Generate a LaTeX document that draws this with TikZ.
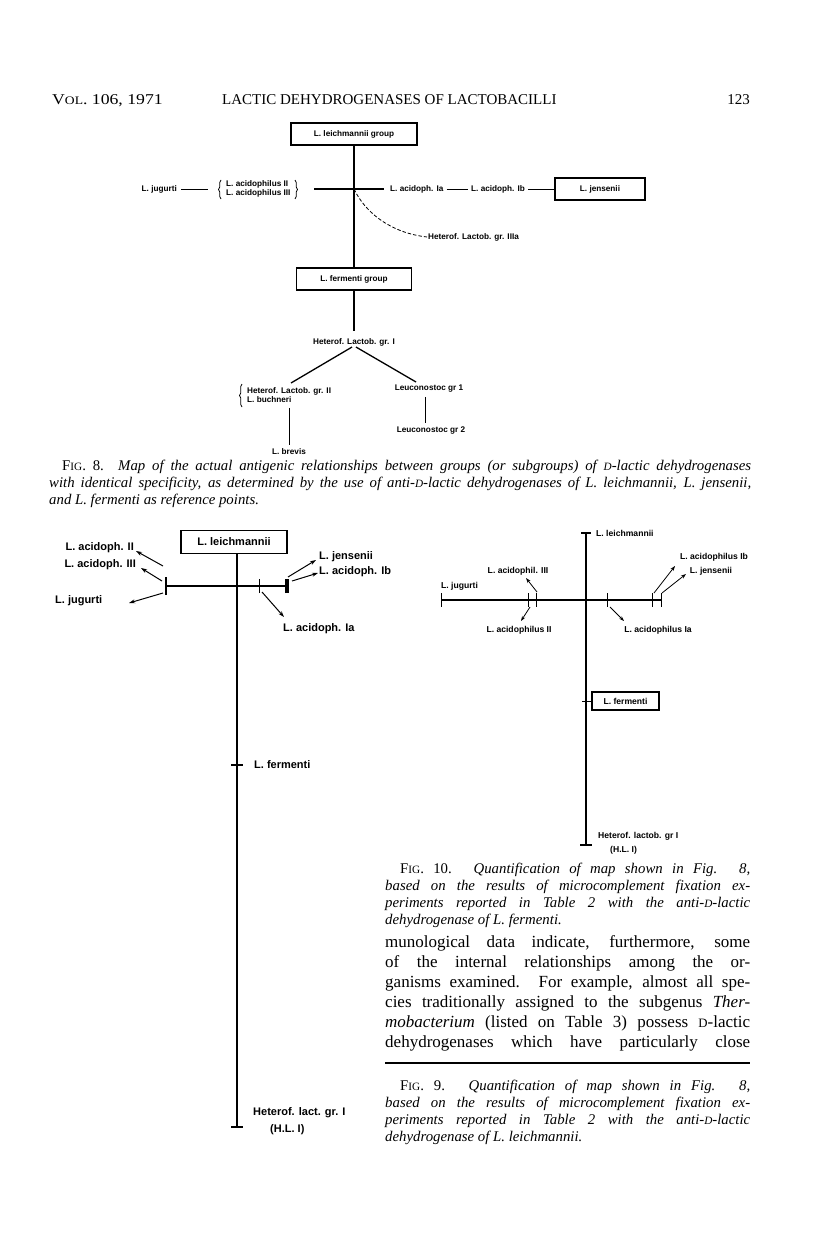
\documentclass[tikz,border=0pt]{standalone}
\usepackage{fontspec}
\setmainfont{Liberation Serif}
\setsansfont{Liberation Sans}
\usetikzlibrary{arrows.meta,decorations.pathreplacing}
\newcommand\scs[2]{{\fontsize{#1}{#1}\selectfont #2}}
\tikzset{
 lblA/.style={font=\sffamily\bfseries\fontsize{8.2}{9.4}\selectfont, inner sep=1pt},
 lblB/.style={font=\sffamily\bfseries\fontsize{11}{12}\selectfont, inner sep=1pt},
 lblC/.style={font=\sffamily\bfseries\fontsize{8.6}{9.4}\selectfont, inner sep=1pt},
 boxA/.style={lblA, draw, line width=1.1pt, minimum height=22pt, inner sep=2pt},
 boxB/.style={lblB, draw, line width=1.3pt, minimum height=23pt},
 boxC/.style={lblC, draw, line width=1.1pt, minimum height=18pt, inner sep=2pt},
 thinln/.style={line width=0.8pt},
 mainln/.style={line width=1.3pt},
 arr/.style={line width=1pt, -{Stealth[length=6pt,width=4pt]}},
 arrS/.style={line width=0.8pt, -{Stealth[length=5pt,width=3.5pt]}},
 txt/.style={anchor=base west, inner sep=0pt},
 brc/.style={thinln, decorate, decoration={brace, amplitude=2.5pt}},
}
\begin{document}
\begin{tikzpicture}[x=1pt,y=-1pt]
\useasboundingbox (0,0) rectangle (816,1260);
\fill[white] (0,0) rectangle (816,1260);

% header
\node[txt, font=\fontsize{15}{15}\selectfont] (hvol) at (52,105) {\scalebox{1.18}[1]{V\scs{11.5}{OL}. 106, 1971}};
\node[txt, font=\fontsize{15}{15}\selectfont] (htitle) at (222,105) {LACTIC DEHYDROGENASES OF LACTOBACILLI};
\node[anchor=base east, inner sep=0pt, font=\fontsize{15}{15}\selectfont] (hpage) at (750,105) {123};

% ---------------- Fig 8 ----------------
\node[boxA, minimum width=126pt] (lg8) at (354,134) {L. leichmannii group};
\node[boxA, minimum width=115pt] (fg8) at (354,279) {L. fermenti group};
\draw[mainln] (lg8) -- (fg8);
\coordinate (hl8) at (314,189);
\coordinate (c8) at (354,189);
\node[lblA, anchor=west] (ia8) at (389,189) {L. acidoph. Ia};
\draw[mainln, shorten >=5pt] (hl8) -- (ia8.west);
\node[lblA, anchor=west] (ib8) at (470,189) {L. acidoph. Ib};
\draw[thinln, shorten <=2pt, shorten >=2pt] (ia8.east) -- (ib8.west);
\node[boxA, minimum width=90pt] (jn8) at (600,189) {L. jensenii};
\draw[thinln, shorten <=2pt] (ib8.east) -- (jn8.west);
\node[lblA, anchor=east] (jg8) at (178,189) {L. jugurti};
\node[lblA, anchor=west, align=left] (ac8) at (225,189) {L. acidophilus II\\L. acidophilus III};
\draw[thinln, shorten <=3pt, shorten >=17pt] (jg8.east) -- (ac8.west);
\draw[brc] (221,199) -- (221,180);
\draw[brc] (295,180) -- (295,199);
\node[lblA, anchor=west] (h3a8) at (427,237) {Heterof. Lactob. gr. IIIa};
\draw[thinln, dash pattern=on 3.5pt off 2pt] (c8) .. controls (366,214) and (392,233) .. (h3a8.west);
\node[lblA] (h18) at (354,342) {Heterof. Lactob. gr. I};
\draw[mainln, shorten >=6pt] (fg8) -- (h18);
\node[lblA, anchor=west, align=left] (h28) at (246,395) {Heterof. Lactob. gr. II\\L. buchneri};
\draw[brc] (242,407) -- (242,384);
\node[lblA] (lc18) at (429,389) {Leuconostoc gr 1};
\node[lblA] (lc28) at (431,431) {Leuconostoc gr 2};
\node[lblA] (br8) at (289,452) {L. brevis};
\coordinate (bl8) at (291,383);
\coordinate (brr8) at (416,382);
\draw[mainln] ([xshift=-2pt]h18.south) -- (bl8);
\draw[mainln] ([xshift=2pt]h18.south) -- (brr8);
\draw[thinln, shorten <=3pt, shorten >=3pt] ([xshift=-4pt]lc18.south) -- ([xshift=-6pt]lc28.north);
\draw[thinln, shorten <=4pt, shorten >=3pt] (br8.north |- h28.south) -- (br8.north);

% caption 8
\node[txt] (cap8) at (49,470) {\parbox[t]{702pt}{\fontsize{14.8}{17}\selectfont
\hspace*{13pt}\makebox[689pt][s]{F\scs{11.2}{IG}. 8. \itshape Map of the actual antigenic relationships between groups (or subgroups) of \scs{11.2}{D}-lactic dehydrogenases}\\
\makebox[702pt][s]{\itshape with identical specificity, as determined by the use of anti-\scs{11.2}{D}-lactic dehydrogenases of L. leichmannii, L. jensenii,}\\
{\itshape and L. fermenti as reference points.}}};

% ---------------- Fig 9 ----------------
\node[boxB, minimum width=106pt] (lm9) at (234,542) {L. leichmannii};
\coordinate (bt9) at (237,1127);
\draw[mainln] (lm9.south -| bt9) -- (bt9);
\draw[mainln] ([xshift=-6pt]bt9) -- ([xshift=6pt]bt9);
\coordinate (hl9) at (166,586);
\coordinate (hr9) at (287,586);
\coordinate (tk9) at (259,586);
\draw[mainln] (hl9) -- (hr9);
\draw[mainln] ([yshift=-9pt]hl9) -- ([yshift=9pt]hl9);
\draw[line width=3.5pt] ([yshift=-7pt]hr9) -- ([yshift=7pt]hr9);
\draw[thinln] ([yshift=-7pt]tk9) -- ([yshift=7pt]tk9);
\coordinate (fm9) at (237,765);
\draw[mainln] ([xshift=-6pt]fm9) -- ([xshift=6pt]fm9);
\node[lblB, anchor=west] (fe9) at (253,765) {L. fermenti};
\node[lblB, anchor=base west] (hb9) at (252,1115) {Heterof. lact. gr. I};
\node[lblB, anchor=base west] (hc9) at (269,1132) {(H.L. I)};
\node[lblB, anchor=east] (a29) at (135,548) {L. acidoph. II};
\node[lblB, anchor=east] (a39) at (137,565) {L. acidoph. III};
\node[lblB, anchor=west] (jg9) at (54,601) {L. jugurti};
\node[lblB, anchor=west] (jn9) at (318,557) {L. jensenii};
\node[lblB, anchor=west] (ib9) at (318,572) {L. acidoph. Ib};
\node[lblB, anchor=west] (ia9) at (282,629) {L. acidoph. Ia};
\coordinate (s29) at (163,566); \coordinate (e29) at (136,551);
\coordinate (s39) at (162,581); \coordinate (e39) at (141,568);
\coordinate (sj9) at (163,593); \coordinate (ej9) at (129,603);
\coordinate (sn9) at (288,577); \coordinate (en9) at (316,560);
\coordinate (sb9) at (292,581); \coordinate (eb9) at (318,573);
\coordinate (sa9) at (262,592); \coordinate (ea9) at (284,617);
\draw[arr] (s29) -- (e29);
\draw[arr] (s39) -- (e39);
\draw[arr] (sj9) -- (ej9);
\draw[arr] (sn9) -- (en9);
\draw[arr] (sb9) -- (eb9);
\draw[arr] (sa9) -- (ea9);

% ---------------- Fig 10 ----------------
\coordinate (tp10) at (586,533);
\coordinate (bt10) at (586,845);
\draw[mainln] (tp10) -- (bt10);
\draw[mainln] ([xshift=-5pt]tp10) -- ([xshift=5pt]tp10);
\draw[mainln] ([xshift=-6pt]bt10) -- ([xshift=6pt]bt10);
\node[lblC, anchor=west] (lm10) at (595,533) {L. leichmannii};
\coordinate (hl10) at (441,600);
\coordinate (hr10) at (661,600);
\draw[mainln] (hl10) -- (hr10);
\foreach \xx in {441,528,536,607,652,661}{
  \draw[thinln] (\xx,593) -- (\xx,607);
}
\node[boxC, minimum width=67pt] (fe10) at (625.5,701) {L. fermenti};
\coordinate (fm10) at (582,701);
\draw[thinln] (fm10) -- (fe10.west);
\node[lblC, anchor=west] (jg10) at (440,586) {L. jugurti};
\node[lblC] (a310) at (518,571) {L. acidophil. III};
\node[lblC] (a210) at (519,630) {L. acidophilus II};
\node[lblC] (ia10) at (658,630) {L. acidophilus Ia};
\node[lblC] (ib10) at (714,557) {L. acidophilus Ib};
\node[lblC] (jn10) at (711,571) {L. jensenii};
\node[lblC, anchor=base west] (hb10) at (597,838) {Heterof. lactob. gr I};
\node[lblC, anchor=base west] (hc10) at (609,852) {(H.L. I)};
\coordinate (s310) at (537,592); \coordinate (e310) at (526,578);
\coordinate (s210) at (530,607); \coordinate (e210) at (521,621);
\coordinate (sa10) at (610,607); \coordinate (ea10) at (624,621);
\coordinate (sb10) at (654,593); \coordinate (eb10) at (675,566);
\coordinate (sn10) at (662,593); \coordinate (en10) at (686,574);
\draw[arrS] (s310) -- (e310);
\draw[arrS] (s210) -- (e210);
\draw[arrS] (sa10) -- (ea10);
\draw[arrS] (sb10) -- (eb10);
\draw[arrS] (sn10) -- (en10);

% caption 10
\node[txt] (cap10) at (385,873) {\parbox[t]{365pt}{\fontsize{14.8}{17}\selectfont
\hspace*{15pt}\makebox[350pt][s]{F\scs{11.2}{IG}. 10. \itshape Quantification of map shown in Fig. 8,}\\
\makebox[365pt][s]{\itshape based on the results of microcomplement fixation ex-}\\
\makebox[365pt][s]{\itshape periments reported in Table 2 with the anti-\scs{11.2}{D}-lactic}\\
{\itshape dehydrogenase of L. fermenti.}}};

% body text
\node[txt] (body) at (385,947) {\parbox[t]{365pt}{\fontsize{17}{20}\selectfont
\makebox[365pt][s]{munological data indicate, furthermore, some}\\
\makebox[365pt][s]{of the internal relationships among the or-}\\
\makebox[365pt][s]{ganisms examined. For example, almost all spe-}\\
\makebox[365pt][s]{cies traditionally assigned to the subgenus \textit{Ther-}}\\
\makebox[365pt][s]{\textit{mobacterium} (listed on Table 3) possess \scs{12.8}{D}-lactic}\\
\makebox[365pt][s]{dehydrogenases which have particularly close}}};

\coordinate (rl) at (385,1063);
\coordinate (rr) at (750,1063);
\draw[line width=1.2pt] (rl) -- (rr);

% caption 9
\node[txt] (cap9) at (385,1090) {\parbox[t]{365pt}{\fontsize{14.8}{17}\selectfont
\hspace*{15pt}\makebox[350pt][s]{F\scs{11.2}{IG}. 9. \itshape Quantification of map shown in Fig. 8,}\\
\makebox[365pt][s]{\itshape based on the results of microcomplement fixation ex-}\\
\makebox[365pt][s]{\itshape periments reported in Table 2 with the anti-\scs{11.2}{D}-lactic}\\
{\itshape dehydrogenase of L. leichmannii.}}};
\end{tikzpicture}
\end{document}
